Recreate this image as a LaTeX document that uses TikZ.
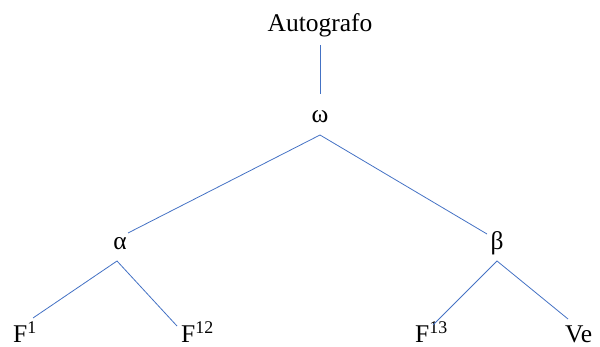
\documentclass[tikz,border=0pt]{standalone}
\usepackage{fontspec}
\setmainfont{Liberation Serif}
\usetikzlibrary{positioning}
\definecolor{TreeBlue}{HTML}{4472C4}

\begin{document}
\begin{tikzpicture}[x=1pt,y=-1pt,
    lbl/.style={font=\rmfamily\fontsize{25.5}{30}\selectfont,inner sep=0pt,anchor=base},
    branch/.style={draw=TreeBlue,line width=0.8pt}]
  \useasboundingbox (0,0) rectangle (600,347);
  % stemma nodes
  \node[lbl] (auto)  at (320,32)  {Autografo};
  \node[lbl] (omega) at (320,123) {ω};
  \node[lbl] (alpha) at (120,250) {α};
  \node[lbl] (beta)  at (497,250) {β};
  \node[lbl,anchor=base west] (f1)  at (13,343)  {F\textsuperscript{1}};
  \node[lbl,anchor=base west] (f12) at (181,343) {F\textsuperscript{12}};
  \node[lbl,anchor=base west] (f13) at (415,343) {F\textsuperscript{13}};
  \node[lbl,anchor=base west] (ve)  at (565,343) {Ve};
  % branches
  \draw[branch] ([shift={(0,13)}]auto.base) -- ([shift={(0,-29)}]omega.base);
  \draw[branch] ([shift={(8,-17)}]alpha.base) -- ([shift={(0,12)}]omega.base)
                -- ([shift={(-10,-16)}]beta.base);
  \draw[branch] ([shift={(20,-25)}]f1.base west) -- ([shift={(-3,11)}]alpha.base)
                -- ([shift={(-4,-17)}]f12.base west);
  \draw[branch] ([shift={(18,-18)}]f13.base west) -- ([shift={(0,11)}]beta.base)
                -- ([shift={(3,-24)}]ve.base west);
\end{tikzpicture}
\end{document}
